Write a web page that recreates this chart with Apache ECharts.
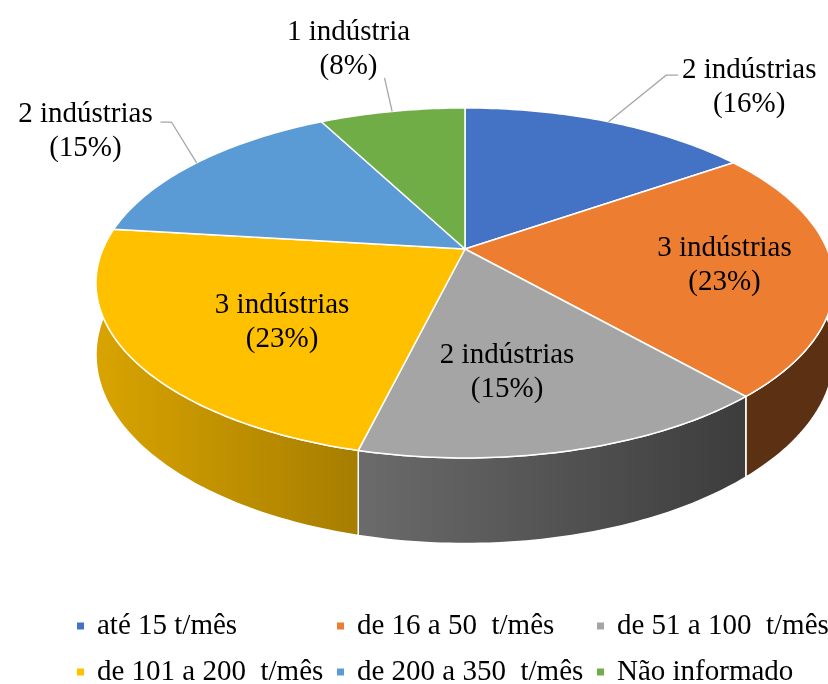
<!DOCTYPE html>
<html>
<head>
<meta charset="utf-8">
<script src="https://cdn.jsdelivr.net/npm/echarts@6/dist/echarts.min.js"></script>
<style>
html,body{margin:0;padding:0;background:#fff;}
#chart{width:828px;height:684px;}
</style>
</head>
<body>
<div id="chart"></div>
<script>
// ---------- data ----------
const categories = ['até 15 t/mês', 'de 16 a 50  t/mês', 'de 51 a 100  t/mês', 'de 101 a 200  t/mês', 'de 200 a 350  t/mês', 'Não informado'];
const counts = [2, 3, 2, 3, 2, 1];
const percents = [16, 23, 15, 23, 15, 8];

// ---------- style / layout ----------
const sliceColors = ['#4472C4', '#ED7D31', '#A5A5A5', '#FFC000', '#5B9BD5', '#70AD47'];
const FONT = "'Liberation Serif','Times New Roman',serif";
const FONT_SIZE = 29;
const LINE_H = 34;
// perspective ellipse of the pie top face
const GEO = { cx: 465, cy: 249, R: 362, Ry: 168.4, p: 0.194, depth: 69 };
// label placement per slice (radius factor, angle offset, leader/elbow offsets)
const LABELS = [
  { mode: 'out', r: 1.466, dA: 0.6, hx: 12, tx: 83, ty: 12.5 },
  { mode: 'in', r: 0.71, dA: 1 },
  { mode: 'in', r: 0.648, dA: 4.8 },
  { mode: 'in', r: 0.614, dA: -6 },
  { mode: 'out', r: 1.297, dA: 8.3, hx: -11, tx: -86, ty: 9.5 },
  { mode: 'out', r: 1.295, dA: 1.5, hx: 0, tx: -36, ty: -29 }
];
// side-wall lighting by angle (clockwise from top)
const SHADE = [[0, 0.40], [90, 0.39], [138, 0.36], [194, 0.65], [265, 0.87], [360, 0.87]];

function shadeAt(a) {
  a = ((a % 360) + 360) % 360;
  for (let i = 1; i < SHADE.length; i++) {
    if (a <= SHADE[i][0]) {
      const [a0, b0] = SHADE[i - 1], [a1, b1] = SHADE[i];
      return b0 + (b1 - b0) * (a - a0) / (a1 - a0);
    }
  }
  return SHADE[SHADE.length - 1][1];
}
function darken(hex, f) {
  const n = parseInt(hex.slice(1), 16);
  const r = Math.round(((n >> 16) & 255) * f);
  const g = Math.round(((n >> 8) & 255) * f);
  const b = Math.round((n & 255) * f);
  return 'rgb(' + r + ',' + g + ',' + b + ')';
}
function proj(r, deg) {
  const a = deg * Math.PI / 180;
  const u = r * Math.sin(a), v = -r * Math.cos(a);
  const s = 1 / (1 - GEO.p * v);
  return [GEO.cx + GEO.R * u * s, GEO.cy + GEO.Ry * v * s, s];
}

const total = counts.reduce((a, b) => a + b, 0);
const starts = [];
(function () { let acc = 0; counts.forEach(c => { starts.push(acc / total * 360); acc += c; }); })();

function renderSlice(params, api) {
  const k = params.seriesIndex;
  const val = api.value(0);
  const a0 = starts[k], a1 = a0 + val / total * 360;
  const n = Math.max(2, Math.ceil((a1 - a0) / 1.0) + 1);
  const top = [], bot = [], angs = [];
  for (let i = 0; i < n; i++) {
    const a = a0 + (a1 - a0) * i / (n - 1);
    const q = proj(1, a);
    top.push([q[0], q[1]]);
    bot.push([q[0], q[1] + GEO.depth * q[2]]);
    angs.push(a);
  }
  let iMin = 0, iMax = 0;
  top.forEach((pt, i) => { if (pt[0] < top[iMin][0]) iMin = i; if (pt[0] > top[iMax][0]) iMax = i; });
  const base = sliceColors[k];
  const wallFill = new echarts.graphic.LinearGradient(0, 0, 1, 0, [
    { offset: 0, color: darken(base, shadeAt(angs[iMin])) },
    { offset: 1, color: darken(base, shadeAt(angs[iMax])) }
  ]);
  const c = proj(0, 0);
  const children = [
    { type: 'polygon', z2: 1, shape: { points: top.concat(bot.slice().reverse()) },
      style: { fill: wallFill, stroke: '#fff', lineWidth: 1.5, lineJoin: 'round' } },
    { type: 'polygon', z2: 50, shape: { points: [[c[0], c[1]]].concat(top) },
      style: { fill: base, stroke: '#fff', lineWidth: 1.5, lineJoin: 'round' } }
  ];
  const text = val + ' indústria' + (val > 1 ? 's' : '') + '\n(' + percents[k] + '%)';
  const L = LABELS[k];
  const mid = (a0 + a1) / 2;
  const tstyle = { text: text, fill: '#000', fontSize: FONT_SIZE, fontFamily: FONT, align: 'center', verticalAlign: 'middle', lineHeight: LINE_H };
  if (L.mode === 'in') {
    const q = proj(L.r, mid + L.dA);
    children.push({ type: 'text', z2: 100, style: Object.assign({ x: q[0], y: q[1] }, tstyle) });
  } else {
    const E = proj(1, mid), B = proj(L.r, mid + L.dA);
    const pts = [[E[0], E[1]], [B[0], B[1]]];
    if (L.hx) pts.push([B[0] + L.hx, B[1]]);
    children.push({ type: 'polyline', z2: 90, shape: { points: pts },
      style: { stroke: '#A6A6A6', lineWidth: 1.3, fill: null } });
    children.push({ type: 'text', z2: 100, style: Object.assign({ x: B[0] + L.tx, y: B[1] + L.ty }, tstyle) });
  }
  return { type: 'group', children: children };
}

const chart = echarts.init(document.getElementById('chart'), null, { renderer: 'canvas' });
chart.setOption({
  backgroundColor: '#fff',
  animation: false,
  legend: {
    data: categories,
    icon: 'rect',
    itemWidth: 7,
    itemHeight: 7,
    itemGap: 12,
    left: 77,
    top: 609,
    width: 770,
    padding: 0,
    selectedMode: false,
    textStyle: { fontSize: FONT_SIZE, fontFamily: FONT, color: '#000', width: 228, lineHeight: 34, padding: [0, 0, 0, 8] }
  },
  series: categories.map((name, k) => ({
    type: 'custom',
    name: name,
    coordinateSystem: 'none',
    itemStyle: { color: sliceColors[k] },
    data: [[counts[k]]],
    renderItem: renderSlice
  }))
});
</script>
</body>
</html>
